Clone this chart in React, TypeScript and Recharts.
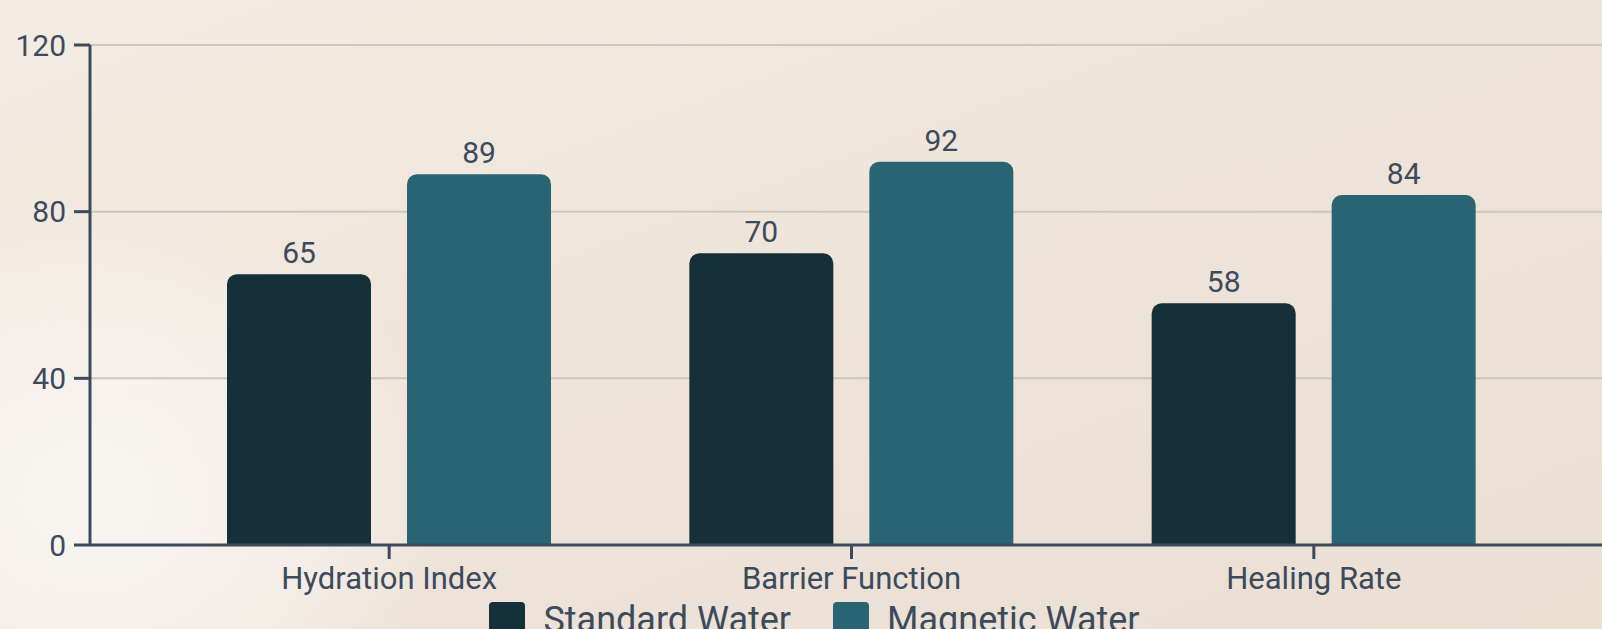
import React from 'react'
import {
  BarChart,
  Bar,
  XAxis,
  YAxis,
  CartesianGrid,
  Legend,
  LabelList,
} from 'recharts'

const CATEGORIES = ['Hydration Index', 'Barrier Function', 'Healing Rate']
const STANDARD_WATER = [65, 70, 58]
const MAGNETIC_WATER = [89, 92, 84]
const Y_TICKS = [0, 40, 80, 120]

const SERIES = [
  { key: 'standard', name: 'Standard Water', color: '#16303a' },
  { key: 'magnetic', name: 'Magnetic Water', color: '#296473' },
]

const TEXT = '#3c4b5c'
const FONT = 'Roboto, "Noto Sans", sans-serif'

const dados = CATEGORIES.map((cat, i) => ({
  categoria: cat,
  standard: STANDARD_WATER[i],
  magnetic: MAGNETIC_WATER[i],
}))

function LegendaCustom() {
  return (
    <div
      style={{
        display: 'flex',
        justifyContent: 'center',
        alignItems: 'flex-start',
        height: 61,
        paddingLeft: 16,
      }}
    >
      {SERIES.map((s, i) => (
        <div
          key={s.key}
          style={{
            display: 'flex',
            alignItems: 'center',
            marginRight: i === 0 ? 42 : 0,
          }}
        >
          <span
            style={{
              display: 'inline-block',
              width: 36,
              height: 36,
              borderRadius: 4,
              background: s.color,
              marginRight: 18,
            }}
          />
          <span style={{ fontFamily: FONT, fontSize: 36, color: TEXT, lineHeight: 'normal' }}>
            {s.name}
          </span>
        </div>
      ))}
    </div>
  )
}

export default function App() {
  return (
    <div
      style={{
        position: 'absolute',
        left: 0,
        top: 0,
        width: 1602,
        height: 629,
        overflow: 'hidden',
        background:
          'radial-gradient(ellipse 360px 300px at 90px 500px, rgba(249,246,242,0.95), rgba(249,246,242,0.6) 60%, rgba(249,246,242,0) 100%), linear-gradient(160deg, #f4ece3 0%, #efe4da 45%, #ebdfd4 100%)',
        fontFamily: FONT,
      }}
    >
      <BarChart
        width={1628}
        height={660}
        data={dados}
        margin={{ top: 45, right: 15, left: 0, bottom: 0 }}
        barSize={144}
        barGap={36}
      >
        <CartesianGrid vertical={false} stroke="#cdc6be" strokeWidth={2} />
        <XAxis
          dataKey="categoria"
          height={54}
          padding={{ left: 68, right: 68 }}
          stroke={TEXT}
          strokeWidth={3}
          tickSize={14}
          tickMargin={8}
          tick={{ fontSize: 31, fill: TEXT, fontFamily: FONT }}
        />
        <YAxis
          width={90}
          domain={[0, 120]}
          ticks={Y_TICKS}
          stroke={TEXT}
          strokeWidth={3}
          tickSize={16}
          tickMargin={8}
          tick={{ fontSize: 30, fill: TEXT, fontFamily: FONT }}
        />
        <Legend verticalAlign="bottom" align="center" content={<LegendaCustom />} />
        {SERIES.map(s => (
          <Bar
            key={s.key}
            dataKey={s.key}
            name={s.name}
            fill={s.color}
            radius={[10, 10, 0, 0]}
            isAnimationActive={false}
          >
            <LabelList
              dataKey={s.key}
              position="top"
              offset={11}
              style={{ fontSize: 30, fill: TEXT, fontFamily: FONT }}
            />
          </Bar>
        ))}
      </BarChart>
    </div>
  )
}
